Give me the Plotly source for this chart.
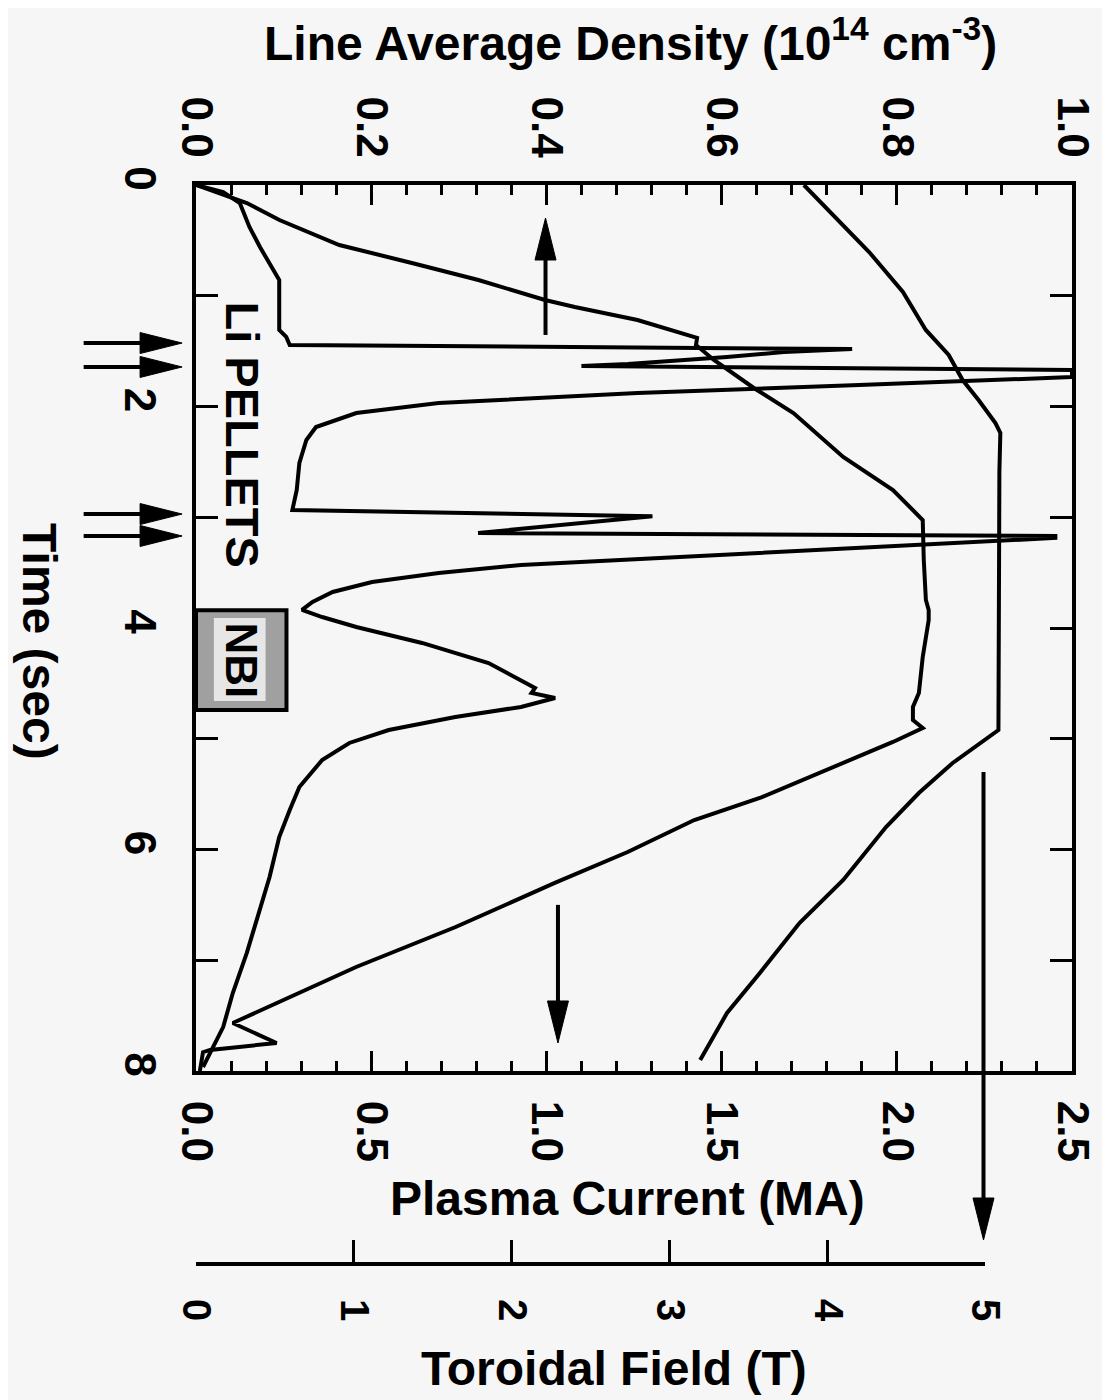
import plotly.graph_objects as go

# ---------------- data ----------------
time_density = [0.00, 0.063, 0.163, 0.379, 0.560, 0.740, 0.858, 1.309, 1.372, 1.445,
                1.481, 1.508, 1.553, 1.616, 1.634,
                1.670, 1.734, 1.806, 1.878, 1.968, 2.059, 2.185, 2.302, 2.510, 2.754, 2.935,
                2.990, 3.142, 3.169, 3.187,
                3.386, 3.413, 3.431, 3.503, 3.585, 3.675, 3.765, 3.837,
                3.901, 3.991, 4.135, 4.316, 4.470, 4.542, 4.587, 4.632,
                4.713, 4.804, 4.921, 5.038, 5.192, 5.436, 5.643, 5.887, 6.248, 6.546,
                6.934, 7.296, 7.603, 7.838, 7.964]
density = [0.000, 0.031, 0.050, 0.061, 0.073, 0.087, 0.095, 0.095, 0.103, 0.107,
           0.749, 0.671, 0.606, 0.493, 0.440,
           1.000, 1.000, 0.757, 0.504, 0.277, 0.183, 0.137, 0.126, 0.118, 0.115, 0.110,
           0.521, 0.322, 0.981, 0.981,
           0.493, 0.410, 0.371, 0.277, 0.201, 0.156, 0.133, 0.121,
           0.144, 0.183, 0.258, 0.334, 0.371, 0.387, 0.383, 0.410,
           0.371, 0.296, 0.220, 0.175, 0.144, 0.118, 0.107, 0.095, 0.084, 0.073,
           0.058, 0.042, 0.031, 0.016, 0.008]

time_current = [0.00, 0.163, 0.316, 0.542, 0.704, 0.858, 1.038, 1.102, 1.219, 1.327, 1.381,
                1.445, 1.580, 1.833, 2.059, 2.456, 2.754, 3.025,
                3.386, 3.747, 3.837, 3.928, 4.262, 4.587, 4.713, 4.831, 4.903,
                5.029, 5.282, 5.535, 5.734, 6.023, 6.302, 6.700, 7.061, 7.332, 7.567,
                7.747, 7.810, 7.830, 8.000]
current = [0.000, 0.145, 0.238, 0.409, 0.616, 0.806, 0.996, 1.081, 1.260, 1.373, 1.430,
           1.427, 1.478, 1.592, 1.705, 1.847, 1.989, 2.074,
           2.077, 2.083, 2.091, 2.091, 2.074, 2.063, 2.046, 2.046, 2.074,
           1.989, 1.799, 1.609, 1.422, 1.232, 1.024, 0.741, 0.457, 0.267, 0.105,
           0.230, 0.040, 0.020, 0.011]

time_field = [0.000, 0.298, 0.605, 0.966, 1.309, 1.535, 1.761, 1.941, 2.149, 2.239,
              2.590, 4.921, 5.075, 5.219, 5.490, 5.797, 6.275, 6.664, 7.115, 7.476, 7.901]
field = [3.85, 4.055, 4.263, 4.477, 4.622, 4.767, 4.855, 4.956, 5.063, 5.094,
         5.088, 5.082, 4.937, 4.792, 4.578, 4.370, 4.099, 3.822, 3.571, 3.363, 3.193]

pellet_times = [1.427, 1.643, 2.971, 3.169]
nbi_window = [3.84, 4.74]
time_ticks = [0, 1, 2, 3, 4, 5, 6, 7, 8]
time_labels = ["0", "", "2", "", "4", "", "6", "", "8"]
field_ticks = [0, 1, 2, 3, 4, 5]

# ---------------- layout geometry (reference pixel coordinates) ----------------
W, H = 1110, 1400
BODY = 8                      # default page margin of the html body
ML, MR, MT, MB = 196, 33, 185, 138
PW = W - ML - MR
PH = H - MT - MB
PLOT_BOTTOM = 1071
FIELD_END_PX = 990


def px_x(p):
    return (p - ML) / PW


def px_y(p):
    return (H - MB - p) / PH


FONT = "Liberation Sans, Arial, Helvetica, sans-serif"
BG = "#f6f6f6"
LW = 4

fig = go.Figure()
line_style = dict(color="black", width=LW)
fig.add_trace(go.Scatter(x=density, y=time_density, xaxis="x2", yaxis="y",
                         mode="lines", line=line_style, showlegend=False))
fig.add_trace(go.Scatter(x=current, y=time_current, xaxis="x", yaxis="y",
                         mode="lines", line=line_style, showlegend=False))
fig.add_trace(go.Scatter(x=field, y=time_field, xaxis="x4", yaxis="y",
                         mode="lines", line=line_style, showlegend=False))
# empty carrier trace so the separate toroidal-field scale is drawn
fig.add_trace(go.Scatter(x=[0], y=[-1], xaxis="x3", yaxis="y2", mode="markers",
                         marker=dict(size=1, opacity=0), showlegend=False, hoverinfo="skip"))

tickfont = dict(family=FONT, size=44, color="black", weight="bold")
common = dict(showline=True, linecolor="black", linewidth=LW, ticks="inside",
              tickcolor="black", tickwidth=3, showgrid=False, zeroline=False,
              tickfont=tickfont, tickangle=90)

fig.update_layout(
    width=W - BODY, height=H - BODY,
    margin=dict(l=ML - BODY, r=MR, t=MT - BODY, b=MB, pad=0),
    paper_bgcolor=BG, plot_bgcolor="rgba(0,0,0,0)",
    showlegend=False,
    xaxis=dict(**common, range=[0, 2.5], domain=[0, 1], anchor="y", side="bottom",
               tick0=0, dtick=0.5, tickformat=".1f", ticklen=20,
               ticklabelstandoff=17,
               minor=dict(dtick=0.1, ticklen=10, ticks="inside", tickcolor="black", tickwidth=3)),
    xaxis2=dict(**common, range=[0, 1], overlaying="x", anchor="y", side="top",
                tick0=0, dtick=0.2, tickformat=".1f", ticklen=20,
                ticklabelstandoff=8,
                minor=dict(dtick=0.04, ticklen=10, ticks="inside", tickcolor="black", tickwidth=3)),
    xaxis3=dict(showline=True, linecolor="black", linewidth=LW, ticks="inside",
                tickcolor="black", tickwidth=3, showgrid=False, zeroline=False,
                tickfont=dict(family=FONT, size=40, color="black", weight="bold"),
                tickangle=90, range=[0, 5], domain=[0, px_x(FIELD_END_PX)],
                anchor="y2", side="bottom", tickvals=field_ticks,
                ticklen=22, ticklabelstandoff=25),
    xaxis4=dict(range=[0, 5 * PW / (FIELD_END_PX - ML)], overlaying="x", visible=False),
    yaxis=dict(**common, range=[8, 0],
               domain=[px_y(PLOT_BOTTOM), 1], tickvals=time_ticks, ticktext=time_labels,
               ticklen=22, mirror="ticks", ticklabelstandoff=14),
    yaxis2=dict(domain=[0, 0.01], range=[0, 1], visible=False, anchor="x3"),
)

title_font = dict(family=FONT, size=48, color="black", weight="bold")
annotations = [
    dict(text="Line Average Density (10<sup>14</sup> cm<sup>-3</sup>)", xref="paper", yref="paper",
         x=px_x(633), y=px_y(40), xanchor="center", yanchor="middle", showarrow=False,
         font=title_font),
    dict(text="Plasma Current (MA)", xref="paper", yref="paper",
         x=px_x(630), y=px_y(1198), xanchor="center", yanchor="middle", showarrow=False,
         font=title_font),
    dict(text="Toroidal Field (T)", xref="paper", yref="paper",
         x=px_x(616), y=px_y(1368), xanchor="center", yanchor="middle", showarrow=False,
         font=title_font),
    dict(text="Time (sec)", xref="paper", yref="paper", textangle=90,
         x=px_x(39), y=px_y(642), xanchor="center", yanchor="middle", showarrow=False,
         font=title_font),
    dict(text="Li PELLETS", xref="paper", yref="y", textangle=90,
         x=px_x(243), y=2.25, xanchor="center", yanchor="middle", showarrow=False,
         font=dict(family=FONT, size=47, color="black", weight="bold")),
    dict(text="NBI", xref="paper", yref="y", textangle=90,
         x=px_x(242), y=(nbi_window[0] + nbi_window[1]) / 2, xanchor="center",
         yanchor="middle", showarrow=False,
         font=dict(family=FONT, size=44, color="black", weight="bold")),
]

shapes = []
# NBI box
shapes.append(dict(type="rect", xref="paper", yref="y", x0=0, x1=px_x(287),
                   y0=nbi_window[0], y1=nbi_window[1], fillcolor="#a0a0a0",
                   line=dict(color="black", width=LW), layer="above"))
shapes.append(dict(type="rect", xref="paper", yref="y", x0=px_x(214), x1=px_x(266),
                   y0=nbi_window[0] + 0.07, y1=nbi_window[1] - 0.08, fillcolor="#e6e6e6",
                   line=dict(width=0), layer="above"))

ARW = 4
HEAD_L, HEAD_W = 42, 10.5
# pellet arrows (left, outside the frame)
for t in pellet_times:
    shapes.append(dict(type="line", xref="paper", yref="y", x0=px_x(83), x1=px_x(150),
                       y0=t, y1=t, line=dict(color="black", width=ARW)))
    shapes.append(dict(type="path", xref="paper", yref="y", xsizemode="pixel",
                       ysizemode="pixel", xanchor=px_x(182), yanchor=t,
                       path=f"M0,0 L{-HEAD_L},{HEAD_W} L{-HEAD_L},{-HEAD_W} Z",
                       fillcolor="black", line=dict(color="black", width=1)))

# density arrow (points up to the top axis)
dens_arrow_x, dens_arrow_t = 0.399, [1.354, 0.298]
shapes.append(dict(type="line", xref="x2", yref="y", x0=dens_arrow_x, x1=dens_arrow_x,
                   y0=dens_arrow_t[0], y1=dens_arrow_t[1] + 0.3,
                   line=dict(color="black", width=ARW)))
shapes.append(dict(type="path", xref="x2", yref="y", xsizemode="pixel", ysizemode="pixel",
                   xanchor=dens_arrow_x, yanchor=dens_arrow_t[1],
                   path=f"M0,0 L{-HEAD_W},{-HEAD_L} L{HEAD_W},{-HEAD_L} Z",
                   fillcolor="black", line=dict(color="black", width=1)))

# current arrow (points down to the bottom axis)
cur_arrow_x, cur_arrow_t = 1.033, [6.50, 7.747]
shapes.append(dict(type="line", xref="x", yref="y", x0=cur_arrow_x, x1=cur_arrow_x,
                   y0=cur_arrow_t[0], y1=cur_arrow_t[1] - 0.3,
                   line=dict(color="black", width=ARW)))
shapes.append(dict(type="path", xref="x", yref="y", xsizemode="pixel", ysizemode="pixel",
                   xanchor=cur_arrow_x, yanchor=cur_arrow_t[1],
                   path=f"M0,0 L{-HEAD_W},{HEAD_L} L{HEAD_W},{HEAD_L} Z",
                   fillcolor="black", line=dict(color="black", width=1)))

# toroidal field arrow (from the curve down to the field axis)
field_arrow_x = px_x(988)
shapes.append(dict(type="line", xref="paper", yref="paper", x0=field_arrow_x, x1=field_arrow_x,
                   y0=px_y(772), y1=px_y(1210), line=dict(color="black", width=ARW)))
shapes.append(dict(type="path", xref="paper", yref="paper", xsizemode="pixel", ysizemode="pixel",
                   xanchor=field_arrow_x, yanchor=px_y(1240),
                   path=f"M0,0 L{-HEAD_W},{HEAD_L} L{HEAD_W},{HEAD_L} Z",
                   fillcolor="black", line=dict(color="black", width=1)))

fig.update_layout(annotations=annotations, shapes=shapes)
fig.write_html("out.html")
